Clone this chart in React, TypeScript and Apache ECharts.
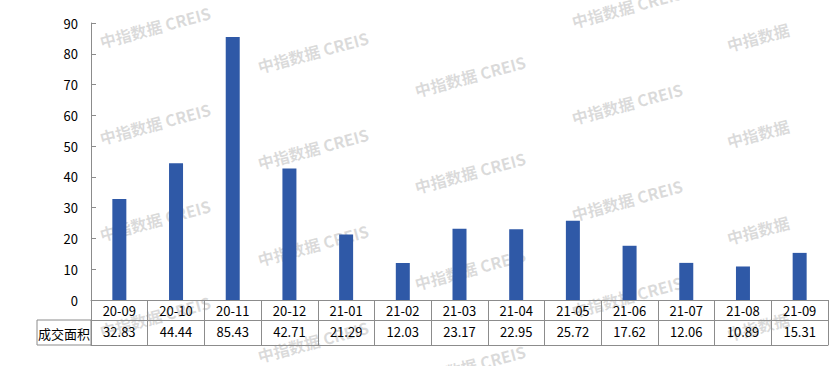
import React, { useEffect, useRef } from "react";
import * as echarts from "echarts";

const categories = ["20-09", "20-10", "20-11", "20-12", "21-01", "21-02", "21-03", "21-04", "21-05", "21-06", "21-07", "21-08", "21-09"];
const areaValues = [32.83, 44.44, 85.43, 42.71, 21.29, 12.03, 23.17, 22.95, 25.72, 17.62, 12.06, 10.89, 15.31];
const rowLabel = "成交面积";
const yMin = 0;
const yMax = 90;
const yInterval = 10;
const watermarkText = "中指数据 CREIS";
const watermarkShort = "中指数据";

const FONT = '"Microsoft YaHei", "Noto Sans CJK SC", sans-serif';
const LINE = "#8c8c8c";

function buildWatermarks() {
  const cols = [
    { x: 155, y: 27, t: watermarkText },
    { x: 313, y: 52, t: watermarkText },
    { x: 470, y: 76, t: watermarkText },
    { x: 627, y: 7, t: watermarkText },
    { x: 758, y: 37, t: watermarkShort },
  ];
  const out: any[] = [];
  cols.forEach((c) => {
    for (let k = 0; k < 4; k++) {
      out.push({
        type: "text",
        x: c.x,
        y: c.y + k * 96.5,
        rotation: Math.PI / 12,
        z: 0,
        silent: true,
        style: {
          text: c.t,
          fill: "rgba(150,150,150,0.34)",
          font: `bold 16px ${FONT}`,
          align: "center",
          verticalAlign: "middle",
        },
      });
    }
  });
  return out;
}

export default function App() {
  const ref = useRef<HTMLDivElement>(null);
  useEffect(() => {
    if (!ref.current) return;
    const chart = echarts.init(ref.current, null, { renderer: "svg" });
    chart.setOption({
      animation: false,
      backgroundColor: "#fff",
      grid: { left: 91, top: 23, width: 737, height: 277 },
      xAxis: [
        {
          type: "category",
          data: categories,
          position: "bottom",
          axisLine: { show: true, lineStyle: { color: LINE, width: 1 } },
          axisTick: { show: true, interval: 0, length: 45, lineStyle: { color: LINE, width: 1 } },
          axisLabel: { interval: 0, margin: 4, color: "#000", fontSize: 13, fontFamily: FONT },
        },
        {
          type: "category",
          data: areaValues.map((v) => v.toFixed(2)),
          position: "bottom",
          offset: 20,
          axisLine: { show: true, lineStyle: { color: LINE, width: 1 } },
          axisTick: { show: false },
          axisLabel: { interval: 0, margin: 5, color: "#000", fontSize: 13, fontFamily: FONT },
        },
        {
          type: "category",
          data: categories,
          position: "bottom",
          offset: 45,
          axisLine: { show: true, lineStyle: { color: LINE, width: 1 } },
          axisTick: { show: false },
          axisLabel: { show: false },
        },
      ],
      yAxis: {
        type: "value",
        min: yMin,
        max: yMax,
        interval: yInterval,
        axisLine: { show: true, lineStyle: { color: LINE, width: 1 } },
        axisTick: { show: true, inside: true, length: 5, lineStyle: { color: LINE } },
        splitLine: { show: false },
        axisLabel: { margin: 13, color: "#000", fontSize: 13, fontFamily: FONT },
      },
      series: [
        {
          type: "bar",
          data: areaValues,
          barWidth: 14,
          z: 5,
          itemStyle: { color: "#2F59A7" },
        },
      ],
      graphic: [
        ...buildWatermarks(),
        {
          type: "rect",
          z: 10,
          shape: { x: 37, y: 320, width: 54, height: 25 },
          style: { fill: "none", stroke: LINE, lineWidth: 1 },
        },
        {
          type: "text",
          z: 10,
          x: 64,
          y: 333,
          style: {
            text: rowLabel,
            fill: "#000",
            font: `13px ${FONT}`,
            align: "center",
            verticalAlign: "middle",
          },
        },
      ],
    });
    return () => chart.dispose();
  }, []);
  return (
    <div
      ref={ref}
      style={{ position: "fixed", left: 0, top: 0, width: 829, height: 366 }}
    />
  );
}
